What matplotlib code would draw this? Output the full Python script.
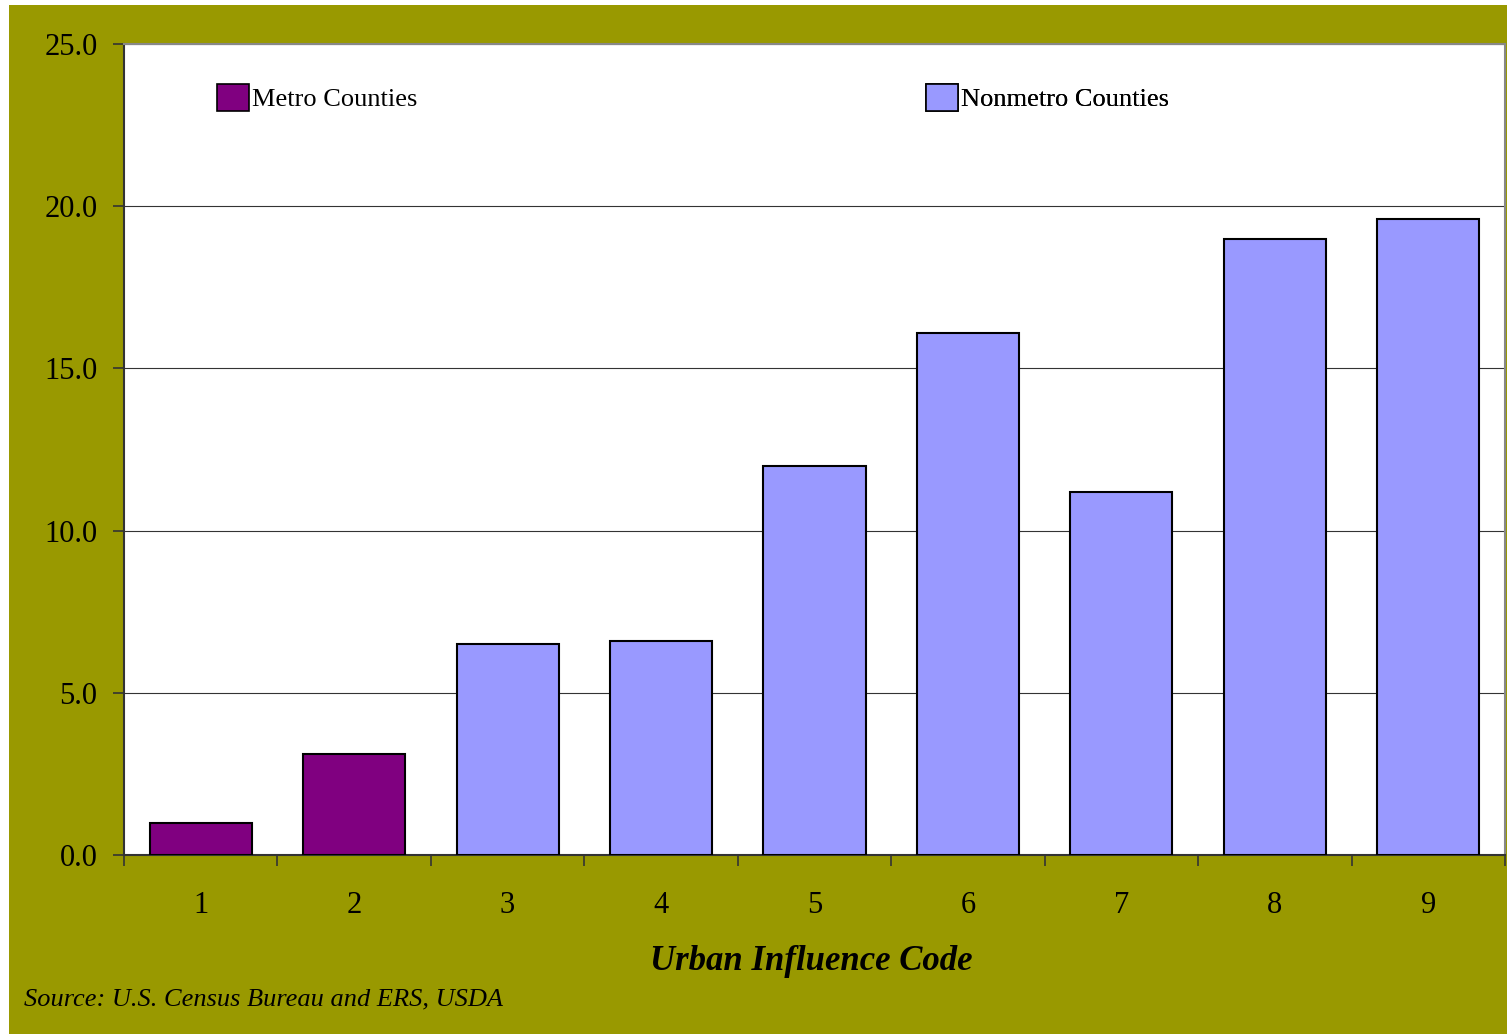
import matplotlib
matplotlib.use("Agg")
import matplotlib.pyplot as plt
from matplotlib.patches import Rectangle, Patch

codes = ["1", "2", "3", "4", "5", "6", "7", "8", "9"]
values = [1.0, 3.1, 6.5, 6.6, 12.0, 16.1, 11.2, 19.0, 19.6]
groups = ["Metro", "Metro", "Nonmetro", "Nonmetro", "Nonmetro", "Nonmetro", "Nonmetro", "Nonmetro", "Nonmetro"]
yticks = [0, 5, 10, 15, 20, 25]
ytick_labels = ["0.0", "5.0", "10.0", "15.0", "20.0", "25.0"]

colors = {"Metro": "#800080", "Nonmetro": "#9999FF"}
legend_labels = {"Metro": "Metro Counties", "Nonmetro": "Nonmetro Counties"}

plt.rcParams['font.family'] = ['Liberation Serif', 'DejaVu Serif']

W, H = 1507, 1034
fig = plt.figure(figsize=(W / 100, H / 100), dpi=100, facecolor="white")
fig.patches.append(Rectangle((9 / W, 0), 1 - 9 / W, 1 - 5 / H, transform=fig.transFigure,
                             facecolor="#999900", edgecolor="none", zorder=-10))

ax = fig.add_axes([124 / W, 1 - 855 / H, (1505 - 124) / W, (855 - 44) / H])
ax.set_facecolor("white")

x = list(range(len(codes)))
ax.bar(x, values, width=0.665, color=[colors[g] for g in groups],
       edgecolor="black", linewidth=1.5, zorder=3)

ax.set_xlim(-0.5, len(codes) - 0.5)
ax.set_ylim(0, 25)
ax.set_yticks(yticks)
ax.set_yticklabels(ytick_labels, fontsize=22)
ax.yaxis.grid(True, color="#333333", linewidth=0.8, zorder=0)
ax.set_axisbelow(True)

ax.set_xticks(x)
ax.set_xticklabels(codes, fontsize=22)
ax.tick_params(axis="x", which="major", length=0, pad=26)
ax.set_xticks([i - 0.5 for i in range(len(codes) + 1)], minor=True)
ax.tick_params(axis="x", which="minor", length=8, width=1.2, color="#333333", direction="out")
ax.tick_params(axis="y", length=8, width=1.2, color="#333333", direction="out", pad=11)

for s in ["left", "bottom"]:
    ax.spines[s].set_color("#333333")
    ax.spines[s].set_linewidth(1.5)
for s in ["top", "right"]:
    ax.spines[s].set_color("#888888")
    ax.spines[s].set_linewidth(1.5)

for g, xa in [("Metro", 0.0673), ("Nonmetro", 0.5807)]:
    leg = ax.legend(handles=[Patch(facecolor=colors[g], edgecolor="black", linewidth=1.2,
                                   label=legend_labels[g])],
                    loc="center left", bbox_to_anchor=(xa, 0.934), frameon=False,
                    fontsize=19, handlelength=1.22, handleheight=1.2, handletextpad=0.12,
                    borderpad=0, borderaxespad=0)
    ax.add_artist(leg)

fig.text(811 / W, 1 - 961 / H, "Urban Influence Code", fontsize=25, fontweight="bold",
         fontstyle="italic", ha="center", va="center")
fig.text(24 / W, 1 - 999 / H, "Source: U.S. Census Bureau and ERS, USDA", fontsize=19,
         fontstyle="italic", ha="left", va="center")

fig.savefig("out.png", dpi=100, facecolor="white")
